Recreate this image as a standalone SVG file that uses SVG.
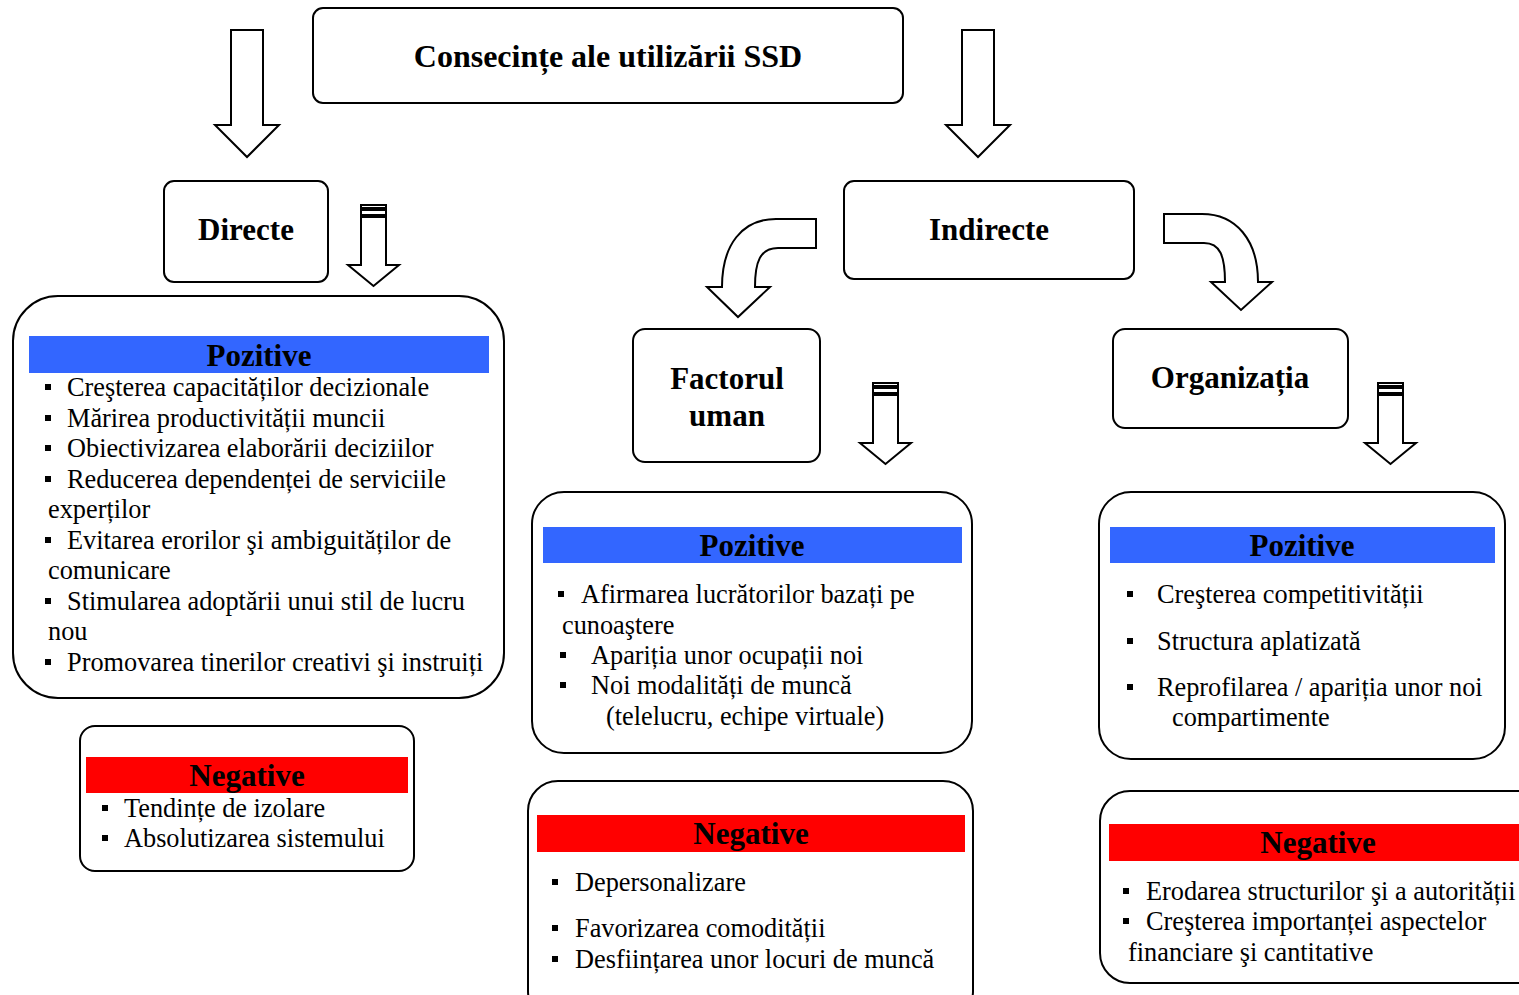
<svg xmlns="http://www.w3.org/2000/svg" width="1519" height="995" viewBox="0 0 1519 995">
  <style>
    .box { fill: #ffffff; stroke: #000000; stroke-width: 2; }
    .arrow { fill: #ffffff; stroke: #000000; stroke-width: 2; stroke-linejoin: miter; }
    .title { font-family: "Liberation Serif", "Times New Roman", serif; font-weight: bold; font-size: 31px; fill: #000000; text-anchor: middle; }
    .body { font-family: "Liberation Serif", "Times New Roman", serif; font-size: 26.3px; fill: #000000; }
    .pos { fill: #3366ff; }
    .neg { fill: #ff0000; }
    .dot { fill: #000000; }
  </style>
  <defs>
    <!-- down arrow with two bars on top; origin at top-left of the bars -->
    <g id="barred-arrow">
      <rect class="arrow" x="0" y="0" width="25" height="3"/>
      <rect class="arrow" x="0" y="5" width="25" height="5"/>
      <path class="arrow" d="M0,12 L25,12 L25,60 L38,60 L12.5,81 L-13,60 L0,60 Z"/>
    </g>
    <rect id="sq" class="dot" width="6" height="6"/>
  </defs>

  <!-- connectors -->
  <g id="connectors">
    <path class="arrow" d="M231,30 L263,30 L263,125 L279,125 L247,157 L215,125 L231,125 Z"/>
    <path class="arrow" d="M962,30 L994,30 L994,125 L1010,125 L978,157 L946,125 L962,125 Z"/>
    <use href="#barred-arrow" x="361" y="205"/>
    <path class="arrow" d="M816,219 L776,219 C742,219 722,245 722,287 L707,287 L738,317 L770,287 L755,287 C755,262 760,248 778,248 L816,248 Z"/>
    <path class="arrow" d="M1164,214 L1202,214 C1236,214 1258,240 1258,282 L1272,282 L1241,310 L1211,282 L1225,282 C1225,256 1220,243 1204,243 L1164,243 Z"/>
    <use href="#barred-arrow" x="873" y="383"/>
    <use href="#barred-arrow" x="1378" y="383"/>
  </g>

  <!-- root -->
  <g id="node-root">
    <rect class="box" x="313" y="8" width="590" height="95" rx="10"/>
    <text class="title" x="608" y="67" style="font-size:32px">Consecințe ale utilizării SSD</text>
  </g>

  <g id="node-directe">
    <rect class="box" x="164" y="181" width="164" height="101" rx="10"/>
    <text class="title" x="246" y="240">Directe</text>
  </g>

  <g id="node-indirecte">
    <rect class="box" x="844" y="181" width="290" height="98" rx="10"/>
    <text class="title" x="989" y="240">Indirecte</text>
  </g>

  <g id="node-factorul-uman">
    <rect class="box" x="633" y="329" width="187" height="133" rx="12"/>
    <text class="title" x="727" y="389">Factorul</text>
    <text class="title" x="727" y="426">uman</text>
  </g>

  <g id="node-organizatia">
    <rect class="box" x="1113" y="329" width="235" height="99" rx="12"/>
    <text class="title" x="1230" y="388">Organizația</text>
  </g>

  <!-- direct effects: positive -->
  <g id="node-directe-pozitive">
    <rect class="box" x="13" y="296" width="491" height="402" rx="45"/>
    <rect class="pos" x="29" y="336" width="460" height="37"/>
    <text class="title" x="259" y="366">Pozitive</text>
    <use href="#sq" x="45" y="384"/>
    <use href="#sq" x="45" y="415"/>
    <use href="#sq" x="45" y="445"/>
    <use href="#sq" x="45" y="476"/>
    <use href="#sq" x="45" y="537"/>
    <use href="#sq" x="45" y="598"/>
    <use href="#sq" x="45" y="659"/>
    <text class="body" x="67" y="396">Creşterea capacităților decizionale</text>
    <text class="body" x="67" y="427">Mărirea productivității muncii</text>
    <text class="body" x="67" y="457">Obiectivizarea elaborării deciziilor</text>
    <text class="body" x="67" y="488">Reducerea dependenței de serviciile</text>
    <text class="body" x="48" y="518">experților</text>
    <text class="body" x="67" y="549">Evitarea erorilor şi ambiguităților de</text>
    <text class="body" x="48" y="579">comunicare</text>
    <text class="body" x="67" y="610">Stimularea adoptării unui stil de lucru</text>
    <text class="body" x="48" y="640">nou</text>
    <text class="body" x="67" y="671">Promovarea tinerilor creativi şi instruiți</text>
  </g>

  <!-- direct effects: negative -->
  <g id="node-directe-negative">
    <rect class="box" x="80" y="726" width="334" height="145" rx="15"/>
    <rect class="neg" x="86" y="757" width="322" height="36"/>
    <text class="title" x="247" y="786">Negative</text>
    <use href="#sq" x="102" y="805"/>
    <use href="#sq" x="102" y="835"/>
    <text class="body" x="124" y="817">Tendințe de izolare</text>
    <text class="body" x="124" y="847">Absolutizarea sistemului</text>
  </g>

  <!-- human factor: positive -->
  <g id="node-uman-pozitive">
    <rect class="box" x="532" y="492" width="440" height="261" rx="32"/>
    <rect class="pos" x="543" y="527" width="419" height="36"/>
    <text class="title" x="752" y="556">Pozitive</text>
    <use href="#sq" x="558" y="591"/>
    <use href="#sq" x="560" y="652"/>
    <use href="#sq" x="560" y="682"/>
    <text class="body" x="581" y="603">Afirmarea lucrătorilor bazați pe</text>
    <text class="body" x="562" y="634">cunoaştere</text>
    <text class="body" x="591" y="664">Apariția unor ocupații noi</text>
    <text class="body" x="591" y="694">Noi modalități de muncă</text>
    <text class="body" x="606" y="725">(telelucru, echipe virtuale)</text>
  </g>

  <!-- human factor: negative -->
  <g id="node-uman-negative">
    <rect class="box" x="528" y="781" width="445" height="240" rx="30"/>
    <rect class="neg" x="537" y="815" width="428" height="37"/>
    <text class="title" x="751" y="844">Negative</text>
    <use href="#sq" x="552" y="879"/>
    <use href="#sq" x="552" y="925"/>
    <use href="#sq" x="552" y="956"/>
    <text class="body" x="575" y="891">Depersonalizare</text>
    <text class="body" x="575" y="937">Favorizarea comodității</text>
    <text class="body" x="575" y="968">Desființarea unor locuri de muncă</text>
  </g>

  <!-- organisation: positive -->
  <g id="node-organizatia-pozitive">
    <rect class="box" x="1099" y="492" width="406" height="267" rx="32"/>
    <rect class="pos" x="1110" y="527" width="385" height="36"/>
    <text class="title" x="1302" y="556">Pozitive</text>
    <use href="#sq" x="1127" y="591"/>
    <use href="#sq" x="1127" y="638"/>
    <use href="#sq" x="1127" y="684"/>
    <text class="body" x="1157" y="603">Creşterea competitivității</text>
    <text class="body" x="1157" y="650">Structura aplatizată</text>
    <text class="body" x="1157" y="696">Reprofilarea / apariția unor noi</text>
    <text class="body" x="1172" y="726">compartimente</text>
  </g>

  <!-- organisation: negative -->
  <g id="node-organizatia-negative">
    <rect class="box" x="1100" y="791" width="450" height="192" rx="30"/>
    <rect class="neg" x="1109" y="824" width="420" height="37"/>
    <text class="title" x="1318" y="853">Negative</text>
    <use href="#sq" x="1123" y="888"/>
    <use href="#sq" x="1123" y="918"/>
    <text class="body" x="1146" y="900">Erodarea structurilor şi a autorității</text>
    <text class="body" x="1146" y="930">Creşterea importanței aspectelor</text>
    <text class="body" x="1128" y="961">financiare şi cantitative</text>
  </g>
</svg>
